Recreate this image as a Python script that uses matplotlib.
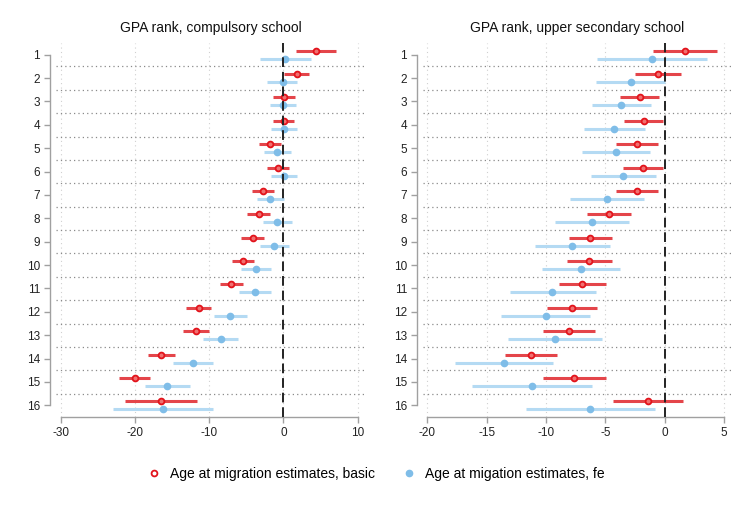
import matplotlib.pyplot as plt
from matplotlib.lines import Line2D
import numpy as np

# Rank categories (age at migration)
ranks = np.arange(1, 17)

# GPA rank, compulsory school: point estimate, lower CI, upper CI
comp_basic = [4.4, 1.8, 0.1, 0.05, -1.85, -0.75, -2.8, -3.3, -4.1, -5.5,
              -7.0, -11.4, -11.8, -16.5, -20.0, -16.5]
comp_basic_lo = [1.7, 0.1, -1.35, -1.4, -3.3, -2.2, -4.2, -4.85, -5.65, -6.95,
                 -8.6, -13.05, -13.5, -18.3, -22.1, -21.3]
comp_basic_hi = [7.05, 3.5, 1.6, 1.5, -0.35, 0.75, -1.25, -1.8, -2.65, -3.9,
                 -5.4, -9.8, -10.05, -14.6, -17.9, -11.7]
comp_fe = [0.2, -0.1, -0.1, 0.05, -0.8, 0.1, -1.75, -0.85, -1.2, -3.7,
           -3.85, -7.2, -8.45, -12.2, -15.7, -16.2]
comp_fe_lo = [-3.2, -2.15, -1.8, -1.65, -2.6, -1.65, -3.5, -2.8, -3.2, -5.75,
              -6.0, -9.4, -10.8, -14.8, -18.7, -22.9]
comp_fe_hi = [3.7, 1.9, 1.7, 1.8, 1.0, 1.9, 0.05, 1.1, 0.7, -1.65,
              -1.7, -4.95, -6.1, -9.5, -12.6, -9.5]

# GPA rank, upper secondary school
upp_basic = [1.74, -0.56, -2.1, -1.77, -2.3, -1.82, -2.36, -4.68, -6.28, -6.37,
             -6.96, -7.83, -8.08, -11.28, -7.63, -1.37]
upp_basic_lo = [-0.95, -2.5, -3.76, -3.42, -4.07, -3.53, -4.12, -6.54, -8.1, -8.25,
                -8.92, -9.9, -10.21, -13.46, -10.27, -4.32]
upp_basic_hi = [4.43, 1.4, -0.45, -0.11, -0.53, -0.11, -0.53, -2.8, -4.4, -4.4,
                -4.96, -5.72, -5.89, -9.03, -4.96, 1.57]
upp_fe = [-1.04, -2.86, -3.67, -4.24, -4.12, -3.48, -4.85, -6.11, -7.77, -7.07,
          -9.48, -10.04, -9.2, -13.52, -11.22, -6.26]
upp_fe_lo = [-5.67, -5.78, -6.14, -6.82, -6.96, -6.23, -7.94, -9.2, -10.94, -10.3,
             -13.04, -13.8, -13.16, -17.64, -16.24, -11.67]
upp_fe_hi = [3.59, 0.0, -1.18, -1.65, -1.26, -0.73, -1.77, -2.97, -4.57, -3.79,
             -5.81, -6.26, -5.27, -9.37, -6.14, -0.81]

red = '#e2131b'
red_ci = '#e4454a'
blue = '#7fbde8'
blue_ci = '#b4daf3'

W, H = 756, 505
fig = plt.figure(figsize=(W / 100, H / 100), dpi=100)
plt.rcParams['font.family'] = ['Liberation Sans', 'DejaVu Sans']


def panel(box, title, xlim, xticks, b, blo, bhi, f, flo, fhi):
    ax = fig.add_axes([box[0] / W, 1 - box[3] / H, (box[2] - box[0]) / W, (box[3] - box[1]) / H])
    off = 0.17
    yb = ranks - off
    yf = ranks + off
    for xv in xticks:
        ax.axvline(xv, color='#d0d0d0', lw=0.8, ls=(0, (1, 3)), zorder=0)
    for yv in np.arange(1.5, 16, 1):
        ax.axhline(yv, color='#8a8a8a', lw=0.9, ls=(0, (1, 2.5)), zorder=0)
    ax.hlines(yb, blo, bhi, color=red_ci, lw=2.2, zorder=2)
    ax.hlines(yf, flo, fhi, color=blue_ci, lw=2.2, zorder=2)
    ax.plot(b, yb, 'o', ms=4.2, mfc='#f07070', mec=red, mew=1.3, ls='none', zorder=3)
    ax.plot(f, yf, 'o', ms=4.5, mfc=blue, mec=blue, ls='none', zorder=3)
    ax.axvline(0, color='#222222', lw=1.4, ls=(0, (5, 2.5)), zorder=4)
    ax.set_xlim(*xlim)
    ax.set_ylim(16.5, 0.5)
    ax.set_yticks(ranks)
    ax.set_yticklabels([str(r) for r in ranks])
    ax.set_xticks(xticks)
    ax.set_xticklabels([str(x) for x in xticks])
    for s in ['top', 'right']:
        ax.spines[s].set_visible(False)
    ax.spines['left'].set_position(('outward', 4))
    ax.spines['left'].set_bounds(1, 16)
    ax.spines['bottom'].set_bounds(xticks[0], xticks[-1])
    for s in ['left', 'bottom']:
        ax.spines[s].set_color('#a0a0a0')
        ax.spines[s].set_linewidth(1.0)
    ax.tick_params(colors='#a0a0a0', labelcolor='#222222', labelsize=8.5,
                   length=4, width=1.0)
    ax.set_title(title, fontsize=10, color='#111111', pad=8)
    return ax


panel((56, 43, 365, 417), 'GPA rank, compulsory school', (-30.63, 11.0),
      [-30, -20, -10, 0, 10], comp_basic, comp_basic_lo, comp_basic_hi,
      comp_fe, comp_fe_lo, comp_fe_hi)
panel((423, 43, 732, 417), 'GPA rank, upper secondary school', (-20.36, 5.67),
      [-20, -15, -10, -5, 0, 5], upp_basic, upp_basic_lo, upp_basic_hi,
      upp_fe, upp_fe_lo, upp_fe_hi)

handles = [
    Line2D([], [], marker='o', ls='none', ms=4.2, mfc='white', mec=red, mew=1.3),
    Line2D([], [], marker='o', ls='none', ms=4.5, mfc=blue, mec=blue),
]
labels = ['Age at migration estimates, basic', 'Age at migation estimates, fe']
fig.legend(handles, labels, loc='center', bbox_to_anchor=(0.497, 0.061), ncol=2,
           frameon=False, fontsize=10, handletextpad=0.6, columnspacing=2.0,
           handlelength=1.0)

fig.savefig('out.png', dpi=100, facecolor='white')
